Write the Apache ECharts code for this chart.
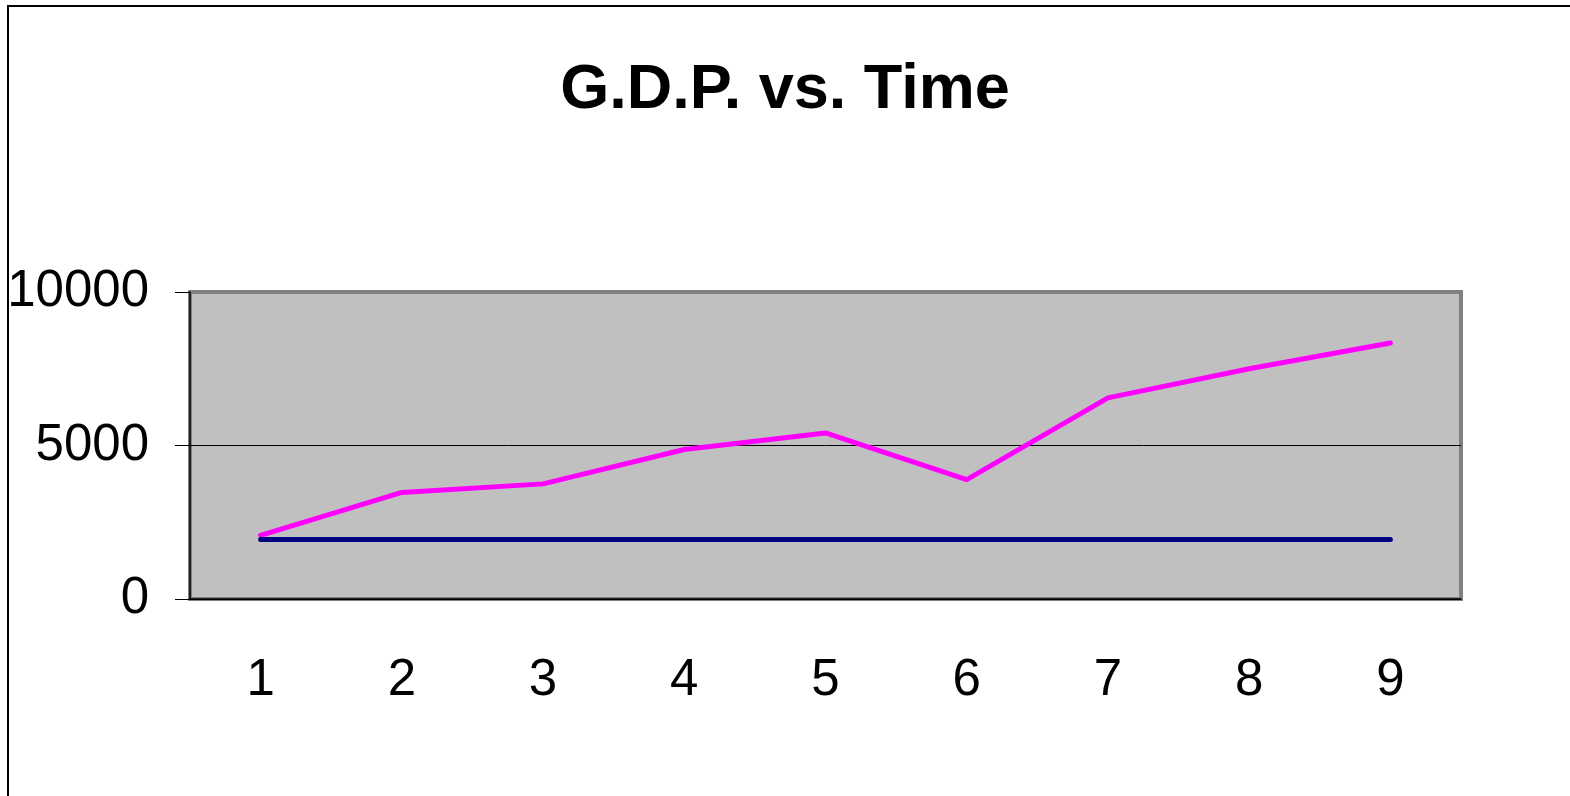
<!DOCTYPE html>
<html>
<head>
<meta charset="utf-8">
<title>G.D.P. vs. Time</title>
<script src="https://cdn.jsdelivr.net/npm/echarts@6/dist/echarts.min.js"></script>
<style>
  html, body { margin: 0; padding: 0; background: #fff; }
  #chart { width: 1570px; height: 796px; }
</style>
</head>
<body>
<div id="chart"></div>
<script>
// values
const periods = ['1', '2', '3', '4', '5', '6', '7', '8', '9']
const gdp = [2075, 3470, 3750, 4870, 5410, 3890, 6550, 7500, 8340]
const baseline = [1935, 1935, 1935, 1935, 1935, 1935, 1935, 1935, 1935]
const yTicks = [0, 5000, 10000]

const font = '"Liberation Sans", Arial, sans-serif'

const option = {
  animation: false,
  backgroundColor: '#fff',
  title: {
    text: 'G.D.P. vs. Time',
    left: 'center',
    top: 54,
    textStyle: { fontFamily: font, fontWeight: 'bold', fontSize: 63, color: '#000' }
  },
  graphic: [{
    type: 'rect',
    shape: { x: 8, y: 6, width: 1700, height: 900 },
    style: { fill: 'none', stroke: '#000', lineWidth: 2 },
    silent: true
  }],
  grid: {
    left: 190, right: 109, top: 292, bottom: 197,
    show: true,
    backgroundColor: '#C0C0C0',
    borderColor: '#808080',
    borderWidth: 4
  },
  xAxis: {
    type: 'category',
    data: periods,
    boundaryGap: true,
    axisLine: { lineStyle: { color: '#000', width: 1.5 } },
    axisTick: { length: 17, lineStyle: { color: '#000' } },
    axisLabel: { margin: 56, fontFamily: font, fontSize: 51, color: '#000' }
  },
  yAxis: {
    type: 'value',
    min: yTicks[0],
    max: yTicks[yTicks.length - 1],
    interval: yTicks[1] - yTicks[0],
    axisLine: { show: true, lineStyle: { color: '#000', width: 1.5 } },
    axisTick: { show: true, length: 15, lineStyle: { color: '#000' } },
    axisLabel: {
      margin: 41, fontFamily: font, fontSize: 51, color: '#000',
      formatter: v => String(v)
    },
    splitLine: { show: true, lineStyle: { color: ['#000', '#000', '#808080'], width: 1 } }
  },
  series: [
    {
      name: 'GDP',
      type: 'line',
      data: gdp,
      showSymbol: false,
      lineStyle: { color: '#FF00FF', width: 5, cap: 'round', join: 'round' },
      itemStyle: { color: '#FF00FF' }
    },
    {
      name: 'Baseline',
      type: 'line',
      data: baseline,
      showSymbol: false,
      lineStyle: { color: '#000080', width: 5, cap: 'round' },
      itemStyle: { color: '#000080' }
    }
  ]
}

const chart = echarts.init(document.getElementById('chart'))
chart.setOption(option)
</script>
</body>
</html>
